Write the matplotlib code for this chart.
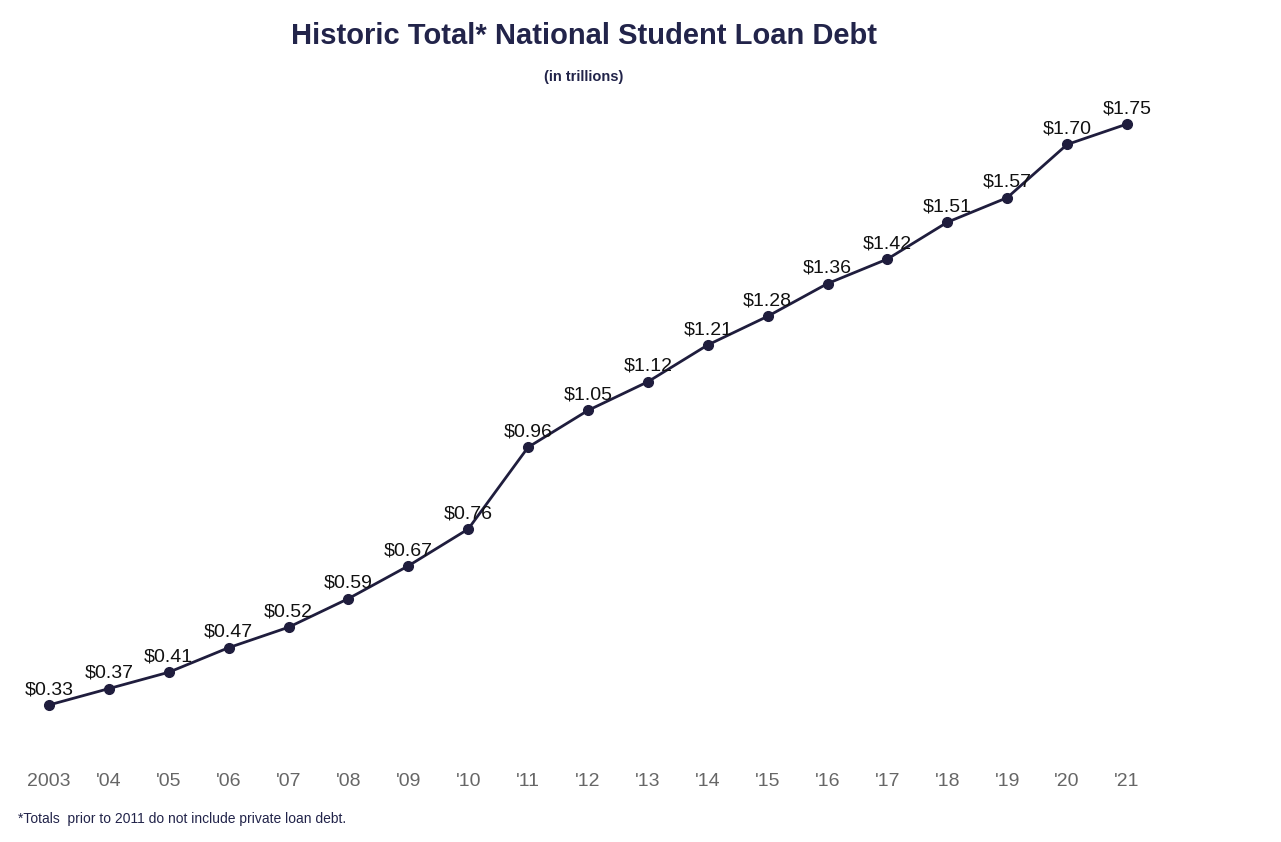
import matplotlib
matplotlib.use("Agg")
import matplotlib.pyplot as plt

plt.rcParams['font.family'] = ['Liberation Sans', 'DejaVu Sans']

years = list(range(2003, 2022))
tick_labels = ["2003", "'04", "'05", "'06", "'07", "'08", "'09", "'10", "'11", "'12",
               "'13", "'14", "'15", "'16", "'17", "'18", "'19", "'20", "'21"]
debt = [0.33, 0.37, 0.41, 0.47, 0.52, 0.59, 0.67, 0.76, 0.96, 1.05,
        1.12, 1.21, 1.28, 1.36, 1.42, 1.51, 1.57, 1.70, 1.75]

W, H = 1281, 842
fig = plt.figure(figsize=(W/100, H/100), dpi=100)
ax = fig.add_axes([20/W, 1-760/H, 1140/W, 680/H])
navy = "#1f1d3d"
ax.plot(years, debt, color=navy, lw=2, marker="o", ms=7, zorder=3)
for x, y in zip(years, debt):
    ax.annotate(f"${y:.2f}", (x, y), xytext=(0, 11), textcoords="offset points",
                ha="center", va="center", fontsize=14, color="#111111")
ax.set_xlim(2002.516, 2021.551)
ax.set_ylim(0.1955, 1.8576)
ax.set_xticks(years)
ax.set_xticklabels(tick_labels, fontsize=14, color="#666666")
ax.tick_params(axis="x", length=0, pad=9)
ax.set_yticks([])
for s in ax.spines.values():
    s.set_visible(False)

fig.text(584/W, 1-36/H, "Historic Total* National Student Loan Debt", ha="center", va="center",
         fontsize=21, fontweight="bold", color="#22244a")
fig.text(584/W, 1-77/H, "(in trillions)", ha="center", va="center",
         fontsize=10.5, fontweight="bold", color="#22244a")
fig.text(18/W, 1-819/H, "*Totals  prior to 2011 do not include private loan debt.", ha="left", va="center",
         fontsize=10, color="#22244a")
fig.savefig("out.png", dpi=100)
